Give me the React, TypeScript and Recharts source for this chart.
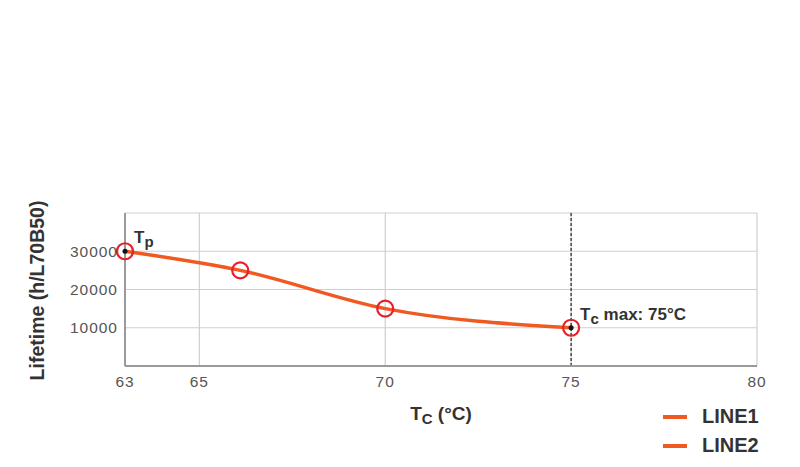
import React from 'react';
import { LineChart, Line, XAxis, YAxis, CartesianGrid, ReferenceLine, Legend } from 'recharts';

const temps = [63, 66.1, 70, 75];
const lifetimes = [30000, 25000, 15000, 10000];
const xTicks = [63, 65, 70, 75, 80];
const yTicks = [10000, 20000, 30000];
const noteTemps = [63, 75];
const noteMain = ['T', 'T'];
const noteSub = ['p', 'c'];
const noteRest = ['', ' max: 75°C'];
const legendNames = ['LINE1', 'LINE2'];
const maxTemp = 75;

const data = temps.map((t, i) => ({ temp: t, life: lifetimes[i] }));

const FONT = '"Liberation Sans", Arial, Helvetica, sans-serif';
const LINE_COLOR = '#f05a22';
const MARK_COLOR = '#e8202c';

const renderDot = (props: any) => {
  const { cx, cy, payload, index } = props;
  const ni = noteTemps.indexOf(payload.temp);
  return (
    <g key={`dot-${index}`}>
      <circle cx={cx} cy={cy} r={8} fill="none" stroke={MARK_COLOR} strokeWidth={2.2} />
      {ni >= 0 && <circle cx={cx} cy={cy} r={2.5} fill="#111" />}
      {ni >= 0 && (
        <text x={cx + 9} y={cy - 8} fontFamily={FONT} fontWeight="bold" fontSize={17} fill="#333">
          <tspan>{noteMain[ni]}</tspan>
          <tspan dy={4} fontSize={15}>{noteSub[ni]}</tspan>
          <tspan dy={-4}>{noteRest[ni]}</tspan>
        </text>
      )}
    </g>
  );
};

const XLabel = (props: any) => {
  const { viewBox } = props;
  const cx = viewBox.x + viewBox.width / 2;
  return (
    <text x={cx} y={viewBox.y + 54} textAnchor="middle" fontFamily={FONT} fontWeight="bold" fontSize={19} fill="#333">
      <tspan>T</tspan>
      <tspan dy={4} fontSize={15}>C</tspan>
      <tspan dy={-4}> (°C)</tspan>
    </text>
  );
};

const YLabel = (props: any) => {
  const { viewBox } = props;
  const x = 44;
  const y = viewBox.y + viewBox.height / 2 + 1;
  return (
    <text x={x} y={y} transform={`rotate(-90, ${x}, ${y})`} textAnchor="middle" fontFamily={FONT} fontWeight="bold" fontSize={19.5} fill="#333">
      Lifetime (h/L70B50)
    </text>
  );
};

const LegendContent = () => (
  <div style={{ fontFamily: FONT }}>
    {legendNames.map((n) => (
      <div key={n} style={{ display: 'flex', alignItems: 'center', height: 29 }}>
        <div style={{ width: 24, height: 4, background: LINE_COLOR, marginRight: 15 }} />
        <span style={{ fontWeight: 'bold', fontSize: 20, color: '#333' }}>{n}</span>
      </div>
    ))}
  </div>
);

const tickStyle = { fill: '#555', fontSize: 15.5, fontFamily: FONT, letterSpacing: 1 };

export default function App() {
  return (
    <div style={{ position: 'absolute', left: 0, top: 0, width: 800, height: 467, background: '#fff' }}>
      <LineChart width={800} height={467} data={data} margin={{ top: 213, right: 43, left: 0, bottom: 0 }}>
        <CartesianGrid stroke="#cfcfcf" strokeWidth={1.2} />
        <XAxis
          dataKey="temp"
          type="number"
          domain={[63, 80]}
          ticks={xTicks}
          height={101}
          tickSize={0}
          tickMargin={10}
          axisLine={{ stroke: '#9a9a9a', strokeWidth: 2 }}
          tick={tickStyle}
          label={<XLabel />}
        />
        <YAxis
          type="number"
          domain={[0, 40000]}
          ticks={yTicks}
          width={125}
          tickSize={0}
          tickMargin={7}
          axisLine={{ stroke: '#9a9a9a', strokeWidth: 2 }}
          tick={tickStyle}
          label={<YLabel />}
        />
        <ReferenceLine x={maxTemp} stroke="#333" strokeWidth={1.3} strokeDasharray="3 2" />
        <Line
          dataKey="life"
          type="monotone"
          stroke={LINE_COLOR}
          strokeWidth={3.5}
          dot={renderDot}
          isAnimationActive={false}
        />
        <Legend
          layout="horizontal"
          verticalAlign="middle"
          align="center"
          content={<LegendContent />}
          wrapperStyle={{ left: 663, top: 402, width: 137, height: 60 }}
        />
      </LineChart>
    </div>
  );
}
